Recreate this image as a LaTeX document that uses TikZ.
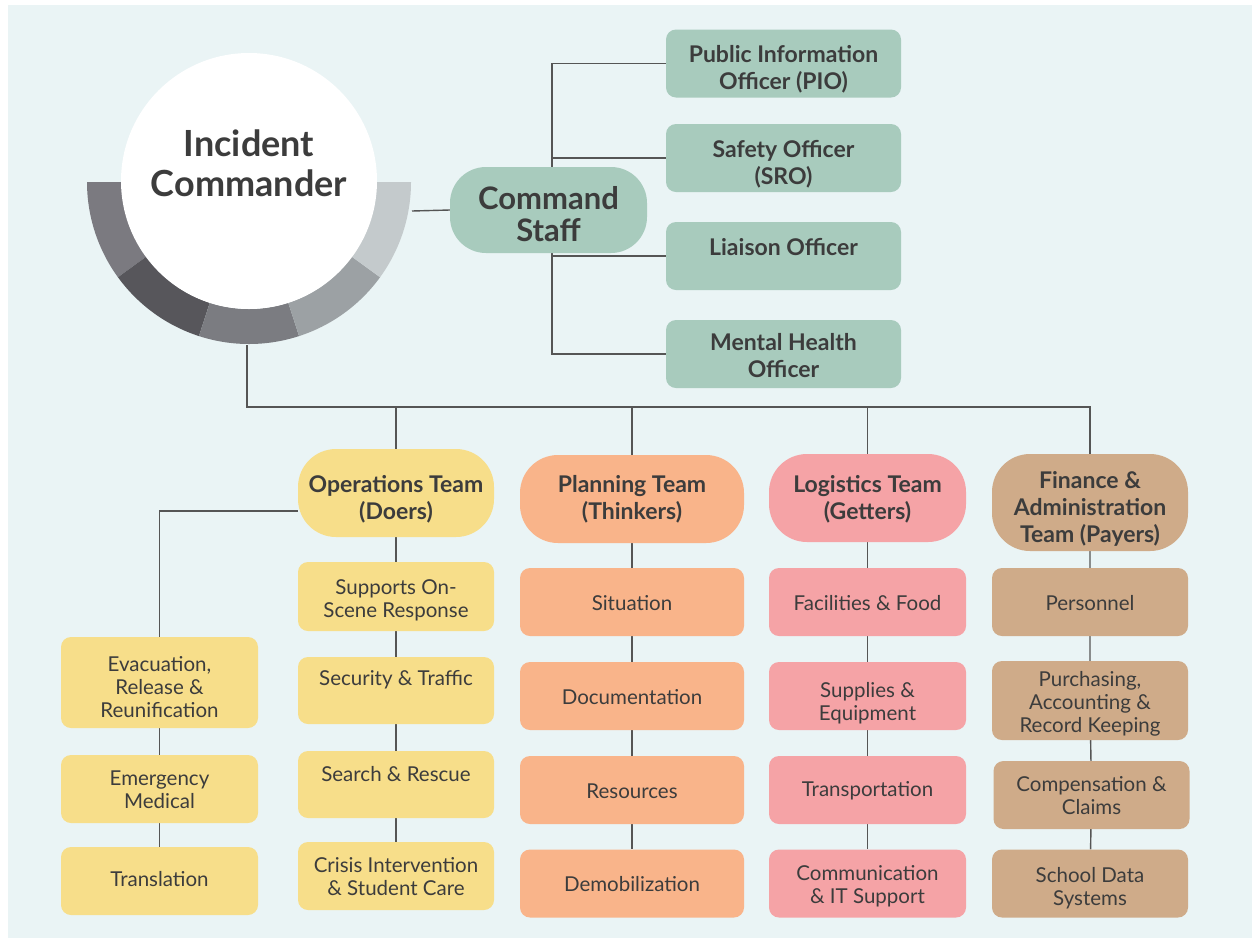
\documentclass[tikz,border=0pt]{standalone}
\usepackage{fontspec}
\setmainfont{Lato}
\usetikzlibrary{backgrounds}
\definecolor{bgc}{HTML}{EAF4F5}
\definecolor{grn}{HTML}{A8CBBD}
\definecolor{ylw}{HTML}{F7DE8A}
\definecolor{org}{HTML}{F9B48A}
\definecolor{pnk}{HTML}{F5A3A6}
\definecolor{tan}{HTML}{CFAB89}
\definecolor{txt}{HTML}{3C3C3C}
\definecolor{lnc}{HTML}{555555}
\definecolor{rgA}{HTML}{7B7A80}
\definecolor{rgB}{HTML}{57565B}
\definecolor{rgC}{HTML}{7B7C81}
\definecolor{rgD}{HTML}{9CA1A4}
\definecolor{rgE}{HTML}{C4CACC}
\newcommand\bxx[6]{\node[#1] (#2) at (#3) {}; \node[tl,#4] (#2T) at (#5) {#6};}
\begin{document}
\begin{tikzpicture}[x=1pt,y=-1pt,
  conn/.style={draw=lnc,line width=1.4pt},
  tl/.style={text=txt,align=center,inner sep=0pt},
  subbox/.style={fill=#1,rounded corners=10pt,inner sep=0pt},
  teambox/.style={fill=#1,rounded corners=38pt,inner sep=0pt},
  offbox/.style={fill=grn,rounded corners=10pt,inner sep=0pt,minimum width=235pt,minimum height=68pt},
  sf/.style={font=\fontsize{20.5}{23}\selectfont},
  tf/.style={font=\fontsize{23}{27}\selectfont\bfseries},
]
\useasboundingbox (0,0) rectangle (1252,938);
\begin{pgfonlayer}{background}
\fill[bgc] (8,5) rectangle (1252,938);
\end{pgfonlayer}

% ring
\begin{scope}[shift={(249,182)}]
\foreach \a/\b/\c in {180/216/rgA,216/252/rgB,252/288/rgC,288/324/rgD,324/360/rgE}{
  \fill[\c] (\a:162pt) arc[start angle=\a,end angle=\b,radius=162pt]
     -- (\b:127pt) arc[start angle=\b,end angle=\a,radius=127pt] -- cycle;
}
\end{scope}
\node[circle,fill=white,minimum size=256pt,inner sep=0pt] (icc) at (249,181) {};
\node[tl,font=\fontsize{36}{40}\selectfont\bfseries] (ic) at (249,163) {Incident\\Commander};
\coordinate (ringR) at (412,211);
\coordinate (ringB) at (247,345);
\coordinate (bus) at (247,407);
\coordinate (csb) at (552,0);

% command staff
\bxx{fill=grn,rounded corners=36pt,minimum width=197pt,minimum height=86pt,inner sep=0pt}{cs}{548.5,210}
  {font=\fontsize{31}{32}\selectfont\bfseries}{548.5,214}{Command\\Staff}
\bxx{offbox}{pio}{783.5,63.5}{tf}{783.5,69.5}{Public Information\\Officer (PIO)}
\bxx{offbox}{so}{783.5,158}{tf}{783.5,164}{Safety Officer\\(SRO)}
\bxx{offbox}{lo}{783.5,256}{tf}{783.5,247}{Liaison Officer}
\bxx{offbox}{mho}{783.5,354}{tf}{783.5,356}{Mental Health\\Officer}

% team headers
\bxx{teambox=ylw,minimum width=196pt,minimum height=88pt}{ops}{396,493}{tf}{396,499.5}{Operations Team\\(Doers)}
\bxx{teambox=org,minimum width=224pt,minimum height=88pt}{pln}{632,499}{tf}{632,499}{Planning Team\\(Thinkers)}
\bxx{teambox=pnk,minimum width=197pt,minimum height=88pt}{lgs}{867.5,498}{tf}{867.5,499}{Logistics Team\\(Getters)}
\bxx{teambox=tan,minimum width=196pt,minimum height=97pt}{fin}{1090,502.5}{tf}{1090,508.5}{Finance \&\\Administration\\Team (Payers)}

% operations
\bxx{subbox=ylw,minimum width=196pt,minimum height=69pt}{o1}{396,596.5}{sf}{396,600.5}{Supports On-\\Scene Response}
\bxx{subbox=ylw,minimum width=196pt,minimum height=67pt}{o2}{396,690.5}{sf}{396,680}{Security \& Traffic}
\bxx{subbox=ylw,minimum width=196pt,minimum height=67pt}{o3}{396,784.5}{sf}{396,774}{Search \& Rescue}
\bxx{subbox=ylw,minimum width=196pt,minimum height=68pt}{o4}{396,876}{sf}{396,876.5}{Crisis Intervention\\\& Student Care}
\bxx{subbox=ylw,minimum width=197pt,minimum height=91pt}{e1}{159.5,682.5}{sf}{159.5,687.5}{Evacuation,\\Release \&\\Reunification}
\bxx{subbox=ylw,minimum width=197pt,minimum height=68pt}{e2}{159.5,789}{sf}{159.5,790}{Emergency\\Medical}
\bxx{subbox=ylw,minimum width=197pt,minimum height=68pt}{e3}{159.5,881}{sf}{159.5,879}{Translation}
% planning
\bxx{subbox=org,minimum width=224pt,minimum height=68pt}{p1}{632,602}{sf}{632,603}{Situation}
\bxx{subbox=org,minimum width=224pt,minimum height=68pt}{p2}{632,696}{sf}{632,697}{Documentation}
\bxx{subbox=org,minimum width=224pt,minimum height=68pt}{p3}{632,790}{sf}{632,791}{Resources}
\bxx{subbox=org,minimum width=224pt,minimum height=68pt}{p4}{632,883.5}{sf}{632,884.5}{Demobilization}
% logistics
\bxx{subbox=pnk,minimum width=197pt,minimum height=68pt}{l1}{867.5,602}{sf}{867.5,603}{Facilities \& Food}
\bxx{subbox=pnk,minimum width=197pt,minimum height=68pt}{l2}{867.5,696}{sf}{867.5,703}{Supplies \&\\Equipment}
\bxx{subbox=pnk,minimum width=197pt,minimum height=68pt}{l3}{867.5,790}{sf}{867.5,791}{Transportation}
\bxx{subbox=pnk,minimum width=197pt,minimum height=68pt}{l4}{867.5,883.5}{sf}{867.5,886.5}{Communication\\\& IT Support}
% finance
\bxx{subbox=tan,minimum width=196pt,minimum height=68pt}{f1}{1090,602}{sf}{1090,603}{Personnel}
\bxx{subbox=tan,minimum width=196pt,minimum height=79pt}{f2}{1090,700.5}{sf}{1090,704}{Purchasing,\\Accounting \&\\Record Keeping}
\bxx{subbox=tan,minimum width=196pt,minimum height=68pt}{f3}{1091.5,795}{sf}{1091.5,795.5}{Compensation \&\\Claims}
\bxx{subbox=tan,minimum width=196pt,minimum height=68pt}{f4}{1090,883.5}{sf}{1090,888.5}{School Data\\Systems}

\begin{pgfonlayer}{background}
\draw[conn] (ringR) -- (cs.west);
\draw[conn] (pio.west) -- (pio.west -| csb) -- (mho.west -| csb) -- (mho.west);
\draw[conn] (so.west) -- (so.west -| csb);
\draw[conn] (lo.west) -- (lo.west -| csb);
\draw[conn] (ringB) -- (bus) -| (fin.north);
\draw[conn] (ops.north) -- (ops.north |- bus);
\draw[conn] (pln.north) -- (pln.north |- bus);
\draw[conn] (lgs.north) -- (lgs.north |- bus);
\draw[conn] ([yshift=-18pt]ops.west) -| (e1.north);
\draw[conn] (e1) -- (e2) -- (e3);
\draw[conn] (ops) -- (o1) -- (o2) -- (o3) -- (o4);
\draw[conn] (pln) -- (p1) -- (p2) -- (p3) -- (p4);
\draw[conn] (lgs) -- (l1) -- (l2) -- (l3) -- (l4);
\draw[conn] (fin) -- (f1) -- (f2) -- (f3) -- (f4);
\end{pgfonlayer}
\end{tikzpicture}
\end{document}
